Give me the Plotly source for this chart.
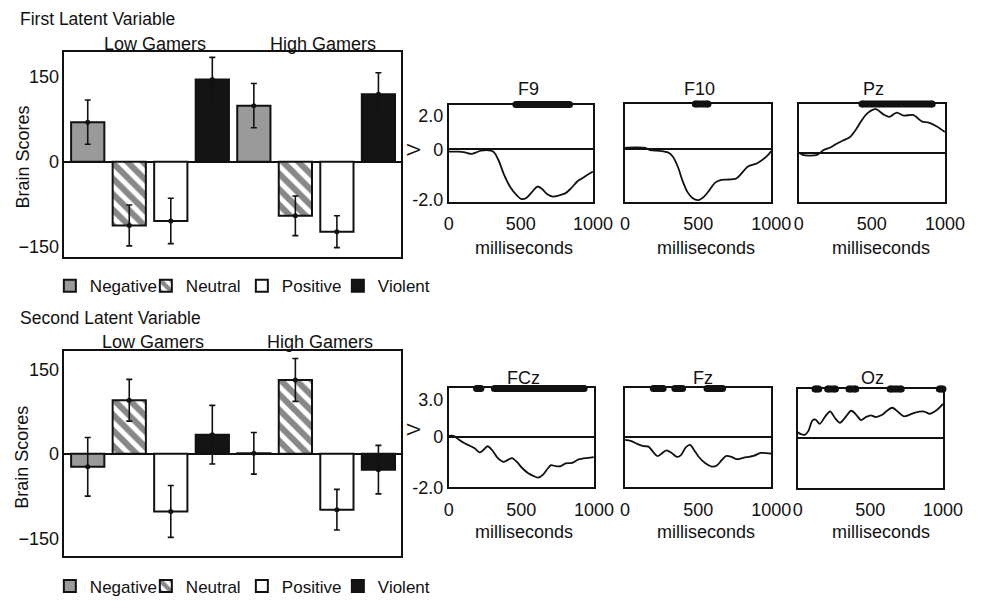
import plotly.graph_objects as go

# ---------------- data ----------------
CONDITIONS = ["Negative", "Neutral", "Positive", "Violent"]
GROUPS = ["Low Gamers", "High Gamers"]

# First latent variable: brain scores [Low Gamers, High Gamers]
LV1_NEGATIVE = [70, 99]
LV1_NEUTRAL = [-112, -95]
LV1_POSITIVE = [-104, -123]
LV1_VIOLENT = [145, 119]
LV1_NEGATIVE_ERR = [39, 39]
LV1_NEUTRAL_ERR = [36, 35]
LV1_POSITIVE_ERR = [40, 28]
LV1_VIOLENT_ERR = [39, 38]

# Second latent variable
LV2_NEGATIVE = [-23, 1]
LV2_NEUTRAL = [95, 131]
LV2_POSITIVE = [-102, -99]
LV2_VIOLENT = [34, -28]
LV2_NEGATIVE_ERR = [52, 37]
LV2_NEUTRAL_ERR = [37, 38]
LV2_POSITIVE_ERR = [46, 36]
LV2_VIOLENT_ERR = [52, 43]

BAR_YTICKS = [-150, 0, 150]
ERP_XTICKS = [0, 500, 1000]
ERP_TOP_YTICK_TEXT = ["-2.0", "0", "2.0"]
ERP_BOT_YTICK_TEXT = ["-2.0", "0", "3.0"]

# ERP waveforms (ms, amplitude)
F9_T = [0, 68, 113, 158, 191, 225, 293, 315, 349, 383, 428, 473, 502, 541, 586, 615, 646, 687, 721, 766, 811, 845, 890, 912, 950, 1000]
F9_V = [-0.09, -0.09, -0.12, -0.18, -0.12, -0.05, -0.05, -0.12, -0.47, -0.99, -1.5, -1.82, -1.96, -1.91, -1.63, -1.47, -1.56, -1.79, -1.87, -1.82, -1.73, -1.56, -1.28, -1.19, -1.05, -0.88]
F10_T = [0, 71, 138, 171, 238, 293, 327, 360, 393, 427, 460, 500, 538, 578, 616, 652, 693, 760, 840, 903, 966, 1000]
F10_V = [0.04, 0.05, 0.03, -0.06, -0.09, -0.15, -0.32, -0.71, -1.28, -1.73, -1.96, -2.05, -1.92, -1.64, -1.35, -1.25, -1.23, -1.19, -0.71, -0.58, -0.32, -0.1]
PZ_T = [0, 27, 71, 127, 171, 216, 260, 304, 349, 393, 427, 471, 527, 582, 620, 670, 720, 782, 845, 883, 945, 1000]
PZ_V = [0.03, -0.06, -0.09, -0.06, 0.13, 0.23, 0.38, 0.51, 0.64, 0.96, 1.28, 1.6, 1.76, 1.54, 1.45, 1.62, 1.5, 1.53, 1.26, 1.23, 1.07, 0.85]
FCZ_T = [0, 34, 67, 101, 145, 179, 213, 235, 268, 302, 336, 380, 414, 436, 470, 503, 548, 582, 615, 649, 682, 705, 738, 772, 805, 850, 895, 960, 1000]
FCZ_V = [0.03, 0.03, -0.1, -0.23, -0.36, -0.46, -0.62, -0.55, -0.38, -0.55, -0.83, -1.0, -0.9, -0.85, -1.0, -1.22, -1.45, -1.55, -1.62, -1.51, -1.26, -1.13, -1.17, -1.17, -1.06, -1.04, -0.9, -0.84, -0.81]
FZ_T = [0, 38, 82, 127, 160, 193, 222, 249, 282, 316, 356, 382, 416, 444, 471, 504, 549, 593, 627, 660, 693, 727, 765, 828, 878, 928, 1000]
FZ_V = [-0.13, -0.17, -0.29, -0.38, -0.4, -0.62, -0.78, -0.68, -0.55, -0.64, -0.81, -0.74, -0.42, -0.33, -0.53, -0.81, -1.06, -1.19, -1.15, -0.94, -0.77, -0.81, -0.9, -0.82, -0.77, -0.65, -0.68]
OZ_T = [0, 22, 51, 74, 101, 123, 152, 190, 224, 257, 291, 324, 369, 403, 436, 470, 503, 537, 582, 615, 652, 732, 808, 871, 909, 960, 1000]
OZ_V = [0.22, 0.15, 0.13, 0.28, 0.69, 0.73, 0.56, 0.86, 1.05, 0.79, 0.6, 0.79, 1.08, 0.92, 0.71, 0.83, 0.9, 0.83, 0.92, 1.08, 1.2, 0.86, 1.01, 1.05, 0.96, 1.12, 1.35]

# significant time windows (ms)
F9_SIG = [(466, 838)]
F10_SIG = [(480, 567)]
PZ_SIG = [(433, 913)]
FCZ_SIG = [(192, 222), (315, 933)]
FZ_SIG = [(193, 260), (340, 393), (560, 667)]
OZ_SIG = [(119, 145), (206, 260), (353, 400), (636, 713), (975, 1000)]

# ---------------- style ----------------
FONT = "Liberation Sans, Arial, Helvetica, sans-serif"
INK = "#111111"
COLORS = {"Negative": "#9a9a9a", "Neutral": "#ffffff", "Positive": "#ffffff", "Violent": "#141414"}
W, H = 1000, 605


def px_x(p):
    return p / W


def px_y(p):
    return 1 - p / H


fig = go.Figure()
shapes = []

CATS = [f"{g}|{c}" for g in GROUPS for c in CONDITIONS]


def add_bars(vals, errs, xa, ya, legend, show):
    for cond, v in zip(CONDITIONS, vals):
        xs = [f"{g}|{cond}" for g in GROUPS]
        pattern = dict(shape="")
        if cond == "Neutral":
            pattern = dict(shape="\\", fgcolor=INK, bgcolor="white", size=11, solidity=0.55)
        fig.add_trace(go.Bar(
            x=xs, y=v, width=0.8, name=cond, legend=legend, showlegend=show,
            marker=dict(color=COLORS[cond], line=dict(color=INK, width=2), pattern=pattern),
            xaxis=xa, yaxis=ya, hoverinfo="skip"))
    for cond, v, e in zip(CONDITIONS, vals, errs):
        xs = [f"{g}|{cond}" for g in GROUPS]
        fig.add_trace(go.Scatter(
            x=xs, y=v, mode="markers", showlegend=False,
            marker=dict(color=INK, size=5),
            error_y=dict(type="data", array=e, color=INK, thickness=1.6, width=3),
            xaxis=xa, yaxis=ya, hoverinfo="skip"))


add_bars([LV1_NEGATIVE, LV1_NEUTRAL, LV1_POSITIVE, LV1_VIOLENT],
         [LV1_NEGATIVE_ERR, LV1_NEUTRAL_ERR, LV1_POSITIVE_ERR, LV1_VIOLENT_ERR],
         "x", "y", "legend", True)
add_bars([LV2_NEGATIVE, LV2_NEUTRAL, LV2_POSITIVE, LV2_VIOLENT],
         [LV2_NEGATIVE_ERR, LV2_NEUTRAL_ERR, LV2_POSITIVE_ERR, LV2_VIOLENT_ERR],
         "x2", "y2", "legend2", True)

box = dict(showline=True, mirror=True, linecolor=INK, linewidth=1.6, showgrid=False, ticks="")

bar_x = dict(box, type="category", categoryorder="array", categoryarray=CATS,
             range=[-0.56, 7.54], showticklabels=False, zeroline=False)
bar_y = dict(box, tickvals=BAR_YTICKS, zeroline=True, zerolinecolor=INK, zerolinewidth=1.6,
             tickfont=dict(size=18))

fig.update_layout(
    xaxis=dict(bar_x, domain=[px_x(61), px_x(406)], anchor="y"),
    yaxis=dict(bar_y, domain=[px_y(265), px_y(54)], range=[-167, 193], anchor="x"),
    xaxis2=dict(bar_x, domain=[px_x(61), px_x(406)], anchor="y2"),
    yaxis2=dict(bar_y, domain=[px_y(574), px_y(362)], range=[-181, 183], anchor="x2"),
)

# ERP panels
PANELS = [
    ("F9", F9_T, F9_V, F9_SIG, (455, 603), (208.5, 108), (-2.08, 1.77), ERP_TOP_YTICK_TEXT, 1.35),
    ("F10", F10_T, F10_V, F10_SIG, (636, 786), (208.5, 107.5), (-2.12, 1.77), None, None),
    ("Pz", PZ_T, PZ_V, PZ_SIG, (814, 964), (208.5, 107.5), (-1.94, 1.96), None, None),
    ("FCz", FCZ_T, FCZ_V, FCZ_SIG, (455, 604), (503, 401), (-2.0, 1.91), ERP_BOT_YTICK_TEXT, 1.46),
    ("Fz", FZ_T, FZ_V, FZ_SIG, (636, 786), (503, 401), (-2.01, 1.91), None, None),
    ("Oz", OZ_T, OZ_V, OZ_SIG, (813, 962), (503.5, 401.5), (-1.98, 1.95), None, None),
]

for i, (name, t, v, sig, xd, yd, yr, ytext, ytop) in enumerate(PANELS):
    n = i + 3
    xa, ya = f"x{n}", f"y{n}"
    fig.add_trace(go.Scatter(x=t, y=v, mode="lines", line=dict(color=INK, width=1.8, shape="spline", smoothing=0.8),
                             showlegend=False, xaxis=xa, yaxis=ya, hoverinfo="skip"))
    ex, ey = [], []
    for a, b in sig:
        shapes.append(dict(type="line", xref=xa, yref=f"{ya} domain", x0=a, x1=b, y0=1, y1=1,
                           line=dict(color=INK, width=7), layer="above"))
        ex += [a, b]
        ey += [yr[1], yr[1]]
    # rounded ends of the significance bars
    fig.add_trace(go.Scatter(x=ex, y=ey, mode="markers", cliponaxis=False,
                             marker=dict(color=INK, size=7, line=dict(width=0)),
                             showlegend=False, xaxis=xa, yaxis=ya, hoverinfo="skip"))
    xdict = dict(box, domain=[px_x(xd[0]), px_x(xd[1])], range=[0, 1000], tickvals=ERP_XTICKS,
                 zeroline=False, anchor=ya, tickfont=dict(size=18), ticklabelstandoff=5)
    ydict = dict(box, domain=[px_y(yd[0]), px_y(yd[1])], range=list(yr), zeroline=True,
                 zerolinecolor=INK, zerolinewidth=1.6, anchor=xa, tickfont=dict(size=18))
    if ytext:
        ydict.update(tickvals=[-2, 0, ytop], ticktext=ytext)
    else:
        ydict.update(showticklabels=False)
    fig.layout[f"xaxis{n}"] = xdict
    fig.layout[f"yaxis{n}"] = ydict

ann = []


def text(s, x, y, size=18, anchor="center", angle=0):
    ann.append(dict(text=s, x=px_x(x), y=px_y(y), xref="paper", yref="paper", showarrow=False,
                    xanchor=anchor, yanchor="middle", textangle=angle, font=dict(size=size, color=INK)))


text("First Latent Variable", 13, 20, 17.5, "left")
text("Low Gamers", 154, 45.5)
text("High Gamers", 326, 45.5)
text("Brain Scores", 18, 162, angle=-90)
text("Second Latent Variable", 13, 328, 17.5, "left")
text("Low Gamers", 152, 353)
text("High Gamers", 323, 353)
text("Brain Scores", 18, 472, angle=-90)

for name, x, y in [("F9", 537, 92), ("F10", 712, 92), ("Pz", 891, 92),
                   ("FCz", 532, 390), ("Fz", 716, 390), ("Oz", 890, 390)]:
    text(name, x, y)
for x in (532, 719, 898):
    text("milliseconds", x, 256)
    text("milliseconds", x, 549)
text("V", 420, 155, angle=-90)
text("V", 420, 444, angle=-90)

legend_common = dict(orientation="h", xanchor="left", yanchor="top", font=dict(size=17, color=INK),
                     bgcolor="rgba(0,0,0,0)", itemwidth=30, tracegroupgap=0, itemclick=False,
                     entrywidth=51, entrywidthmode="pixels")

fig.update_layout(
    width=W, height=H, margin=dict(l=0, r=0, t=0, b=0),
    paper_bgcolor="white", plot_bgcolor="white", barmode="overlay",
    font=dict(family=FONT, size=18, color=INK),
    annotations=ann, shapes=shapes,
    legend=dict(legend_common, x=px_x(46), y=px_y(277)),
    legend2=dict(legend_common, x=px_x(46), y=px_y(587)),
)

fig.write_html("out.html")
